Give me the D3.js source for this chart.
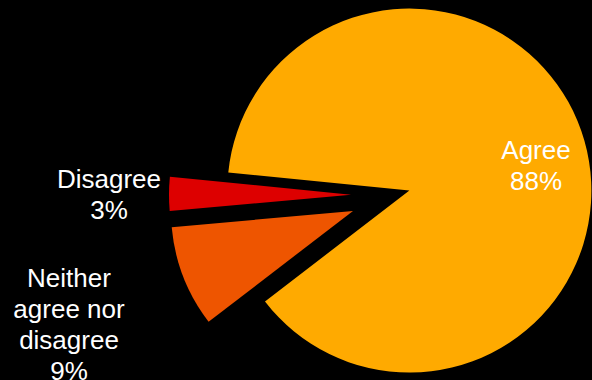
<!DOCTYPE html>
<html>
<head>
<meta charset="utf-8">
<script src="https://cdn.jsdelivr.net/npm/d3@7/dist/d3.min.js"></script>
<style>
  html, body { margin: 0; padding: 0; background: #000; }
  svg { display: block; }
</style>
</head>
<body>
<svg id="chart" width="592" height="380"></svg>
<script>
// Survey responses (percent)
const categories = ["Agree", "Neither agree nor disagree", "Disagree"];
const values = [88, 9, 3];
const labelLines = [["Agree", "88%"], ["Neither", "agree nor", "disagree", "9%"], ["Disagree", "3%"]];
const colors = ["#FFAA00", "#EE5500", "#DD0000"];

// Layout
const W = 592, H = 380;
const cx = 394, cy = 195, R = 182;
const explode = [16, 44, 43];           // radial offset of each slice
const labelPos = [[536, 159], [69, 287], [109, 188]]; // first-line baseline, centered
const lineHeight = 31;
const deg = Math.PI / 180;
const start = -84.3 * deg;

const svg = d3.select("#chart");
svg.append("rect").attr("width", W).attr("height", H).attr("fill", "#000");

const pie = d3.pie().sort(null).value(d => d).startAngle(start).endAngle(start + 2 * Math.PI);
const arc = d3.arc().innerRadius(0).outerRadius(R);
const arcs = pie(values);

const g = svg.append("g").attr("transform", `translate(${cx},${cy})`);

g.selectAll("path.slice")
  .data(arcs)
  .join("path")
  .attr("class", "slice")
  .attr("fill", (d, i) => colors[i])
  .attr("transform", (d, i) => {
    const mid = (d.startAngle + d.endAngle) / 2;
    return `translate(${Math.sin(mid) * explode[i]},${-Math.cos(mid) * explode[i]})`;
  })
  .attr("d", arc);

const labels = svg.selectAll("text.lbl")
  .data(categories)
  .join("text")
  .attr("class", "lbl")
  .attr("text-anchor", "middle")
  .attr("fill", "#fff")
  .attr("font-family", "Liberation Sans, Arial, sans-serif")
  .attr("font-size", 26);

labels.each(function(d, i) {
  const t = d3.select(this);
  labelLines[i].forEach((line, k) => {
    t.append("tspan")
      .attr("x", labelPos[i][0])
      .attr("y", labelPos[i][1] + k * lineHeight)
      .text(line);
  });
});
</script>
</body>
</html>
